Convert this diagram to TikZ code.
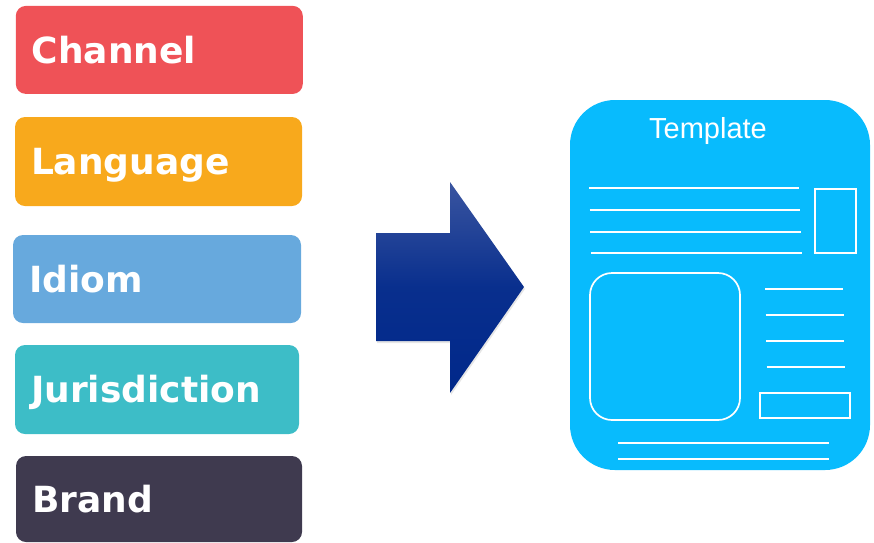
\documentclass[tikz,border=0pt]{standalone}
\usepackage{fontspec}
\newfontfamily\boxfont{DejaVu Sans}
\newfontfamily\tplfont{Liberation Sans}
\usetikzlibrary{shadows}
\definecolor{cRed}{HTML}{EF5257}
\definecolor{cOrange}{HTML}{F8A91C}
\definecolor{cBlue}{HTML}{67A9DD}
\definecolor{cTeal}{HTML}{3DBDC7}
\definecolor{cDark}{HTML}{3F3A4F}
\definecolor{cSky}{HTML}{08BBFD}
\definecolor{arrTop}{HTML}{3A55A0}
\definecolor{arrBot}{HTML}{00288A}
\tikzset{
  catbox/.style={rounded corners=10pt, minimum height=88pt, inner xsep=16pt, inner ysep=0pt,
    text=white, align=left, font=\boxfont\bfseries\fontsize{36}{36}\selectfont,
    text height=26.5pt, text depth=0pt},
  wline/.style={draw=white, line width=1.7pt},
}
\begin{document}
\begin{tikzpicture}[x=1pt,y=-1pt]
\useasboundingbox (0,0) rectangle (874,542);
% category boxes
\node[catbox, fill=cRed, text width=255pt] (channel) at (159.3,49.9) {Channel};
\node[catbox, fill=cOrange, text width=255pt, minimum height=89pt] (language) at (158.5,161.5) {Language};
\node[catbox, fill=cBlue, text width=256pt] (idiom) at (157,279) {Idiom};
\node[catbox, fill=cTeal, text width=252pt, minimum height=89pt] (juris) at (157,389.5) {Jurisdiction};
\node[catbox, fill=cDark, text width=254pt, minimum height=86pt] (brand) at (159,499) {Brand};
% big arrow
\shade[top color=arrTop, bottom color=arrBot, middle color=arrBot!85!arrTop,
  drop shadow={shadow xshift=1pt, shadow yshift=-2pt, opacity=0.2}]
  (376,233) -- (450,233) -- (450,182) -- (524,287) -- (450,393) -- (450,341) -- (376,341) -- cycle;
% template
\node[fill=cSky, rounded corners=45pt, minimum width=300pt, minimum height=370pt, inner sep=0pt] (tpl) at (720,285) {};
\node[anchor=base, text=white, font=\tplfont\fontsize{29}{29}\selectfont, inner sep=0pt] (tpltitle) at (708,138) {Template};
\draw[wline] (589,188.3) -- (799,188.3);
\draw[wline] (589.5,210) -- (800,210);
\draw[wline] (590,232) -- (801,232);
\draw[wline] (591,253) -- (802,253);
\draw[wline] (815,189) rectangle (856,253);
\draw[wline, rounded corners=22pt] (590,273) rectangle (740,420);
\draw[wline] (765,289) -- (843,289);
\draw[wline] (765.5,315) -- (843.5,315);
\draw[wline] (766,341) -- (844,341);
\draw[wline] (766.5,367) -- (844.5,367);
\draw[wline] (760,393) rectangle (850,418);
\draw[wline] (618,443) -- (829,443);
\draw[wline] (618,459) -- (829,459);
\end{tikzpicture}
\end{document}
